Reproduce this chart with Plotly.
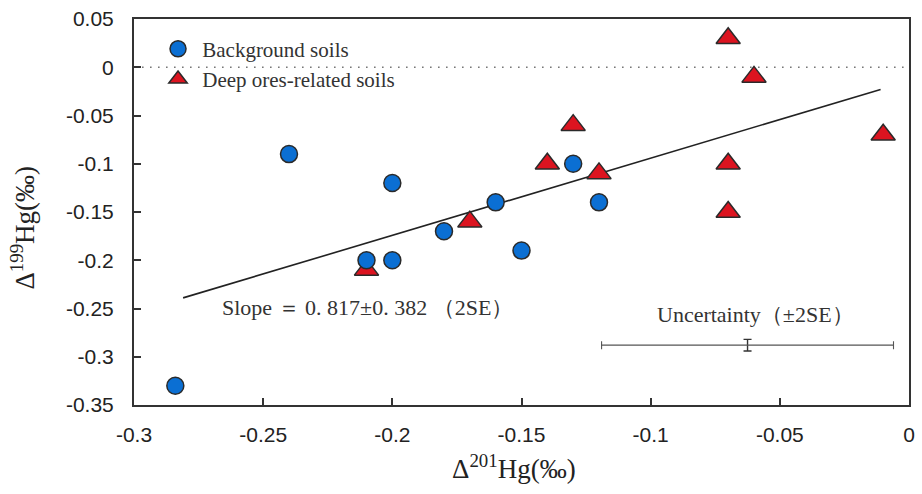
import plotly.graph_objects as go

# ---- data ----
bg_x = [-0.284, -0.24, -0.20, -0.21, -0.20, -0.18, -0.16, -0.15, -0.13, -0.12]
bg_y = [-0.33, -0.09, -0.12, -0.20, -0.20, -0.17, -0.14, -0.19, -0.10, -0.14]

ore_x = [-0.21, -0.17, -0.14, -0.13, -0.12, -0.07, -0.06, -0.07, -0.07, -0.01]
ore_y = [-0.21, -0.16, -0.10, -0.06, -0.11, 0.03, -0.01, -0.10, -0.15, -0.07]

fit_x = [-0.281, -0.011]
fit_y = [-0.239, -0.023]

unc_x = [-0.0625]
unc_y = [-0.288]
unc_ex = [0.0565]
unc_ey = [0.006]

x_ticks = [-0.3, -0.25, -0.2, -0.15, -0.1, -0.05, 0]
x_ticktext = ["-0.3", "-0.25", "-0.2", "-0.15", "-0.1", "-0.05", "0"]
y_ticks = [0.05, 0, -0.05, -0.1, -0.15, -0.2, -0.25, -0.3, -0.35]
y_ticktext = ["0.05", "0", "-0.05", "-0.1", "-0.15", "-0.2", "-0.25", "-0.3", "-0.35"]

BLUE = "#0b6fd3"
RED = "#dc1420"
EDGE = "#2a2a2a"
SERIF = "Liberation Serif, Times New Roman, serif"
SANS = "Liberation Sans, Arial, sans-serif"

fig = go.Figure()

fig.add_trace(go.Scatter(
    x=fit_x, y=fit_y, mode="lines",
    line=dict(color="#222222", width=1.6), showlegend=False, hoverinfo="skip"))

fig.add_trace(go.Scatter(
    x=unc_x, y=unc_y, mode="markers",
    marker=dict(size=1, color="rgba(0,0,0,0)"),
    error_x=dict(type="data", array=unc_ex, width=4, thickness=1.1, color="#555555"),
    error_y=dict(type="data", array=unc_ey, width=4, thickness=1.4, color="#333333"),
    showlegend=False, hoverinfo="skip"))

fig.add_trace(go.Scatter(
    x=ore_x, y=ore_y, mode="markers", name="\u2009Deep ores-related soils",
    legendgroup="b", legendrank=2,
    marker=dict(symbol="triangle-up", size=21, color=RED, line=dict(color=EDGE, width=1.5))))

fig.add_trace(go.Scatter(
    x=bg_x, y=bg_y, mode="markers", name="\u2009Background soils",
    legendgroup="a", legendrank=1,
    marker=dict(symbol="circle", size=17, color=BLUE, line=dict(color=EDGE, width=1.5))))

fig.add_shape(type="line", xref="paper", x0=0, x1=1, yref="y", y0=0, y1=0,
              line=dict(color="#777777", width=1.6, dash="1.6px,6.4px"), layer="below")

fig.add_annotation(x=-0.2995, y=-0.2485, xref="x", yref="y", xanchor="left", yanchor="middle",
                   text="Slope ＝ 0. 817±0. 382 （2SE）", showarrow=False, xshift=85,
                   font=dict(family=SERIF, size=22, color="#333333"))
fig.add_annotation(x=-0.0595, y=-0.256, xref="x", yref="y", xanchor="center", yanchor="middle",
                   text="Uncertainty（±2SE）", showarrow=False,
                   font=dict(family=SERIF, size=22, color="#333333"))

fig.add_annotation(x=0.49, y=-0.16, xref="paper", yref="paper", xanchor="center", yanchor="middle",
                   text="Δ<sup>201</sup>Hg(‰)", showarrow=False,
                   font=dict(family=SERIF, size=27, color="#222222"))
fig.add_annotation(x=-0.143, y=0.46, xref="paper", yref="paper", xanchor="center", yanchor="middle",
                   text="Δ<sup>199</sup>Hg(‰)", showarrow=False, textangle=-90,
                   font=dict(family=SERIF, size=27, color="#222222"))

fig.update_layout(
    width=922, height=494,
    margin=dict(l=134, r=7, t=18, b=89),
    paper_bgcolor="white", plot_bgcolor="white",
    showlegend=True,
    legend=dict(x=0.031, y=0.975, xanchor="left", yanchor="top",
                font=dict(family=SERIF, size=21, color="#333333"),
                bgcolor="rgba(0,0,0,0)", tracegroupgap=2, itemsizing="trace",
                traceorder="normal"),
    xaxis=dict(range=[-0.3, 0], tickvals=x_ticks, ticktext=x_ticktext,
               ticks="inside", ticklen=7, tickwidth=1.5, tickcolor="#333333",
               showline=True, linecolor="#333333", linewidth=2, mirror=True,
               showgrid=False, zeroline=False,
               tickfont=dict(family=SANS, size=21, color="#222222"),
               ticklabelstandoff=10),
    yaxis=dict(range=[-0.35, 0.05], tickvals=y_ticks, ticktext=y_ticktext,
               ticks="inside", ticklen=7, tickwidth=1.5, tickcolor="#333333",
               showline=True, linecolor="#333333", linewidth=2, mirror=True,
               showgrid=False, zeroline=False,
               tickfont=dict(family=SANS, size=21, color="#222222"),
               ticklabelstandoff=14),
)

fig.write_html("out.html")
